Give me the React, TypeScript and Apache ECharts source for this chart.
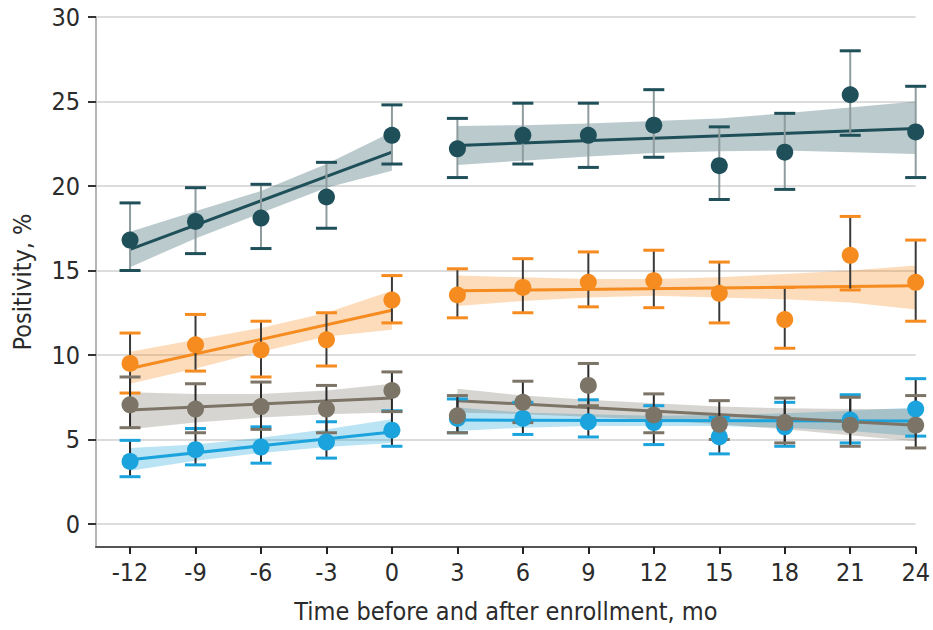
import React, { useEffect, useRef } from 'react';
import * as echarts from 'echarts';

const months = [-12, -9, -6, -3, 0, 3, 6, 9, 12, 15, 18, 21, 24];
const yTicks = [0, 5, 10, 15, 20, 25, 30];

const slateValues = [16.8, 17.9, 18.1, 19.35, 23.0, 22.2, 23.0, 23.0, 23.6, 21.2, 22.0, 25.4, 23.2];
const slateLow = [15.0, 16.0, 16.3, 17.5, 21.3, 20.5, 21.3, 21.1, 21.7, 19.2, 19.8, 23.0, 20.5];
const slateHigh = [19.0, 19.9, 20.1, 21.4, 24.8, 24.0, 24.9, 24.9, 25.7, 23.5, 24.3, 28.0, 25.9];

const orangeValues = [9.5, 10.6, 10.3, 10.9, 13.25, 13.55, 14.0, 14.3, 14.4, 13.65, 12.1, 15.9, 14.3];
const orangeLow = [7.75, 9.05, 8.7, 9.35, 11.9, 12.2, 12.5, 12.85, 12.8, 11.9, 10.4, 13.85, 12.0];
const orangeHigh = [11.3, 12.4, 12.0, 12.5, 14.7, 15.1, 15.7, 16.1, 16.2, 15.5, 14.0, 18.2, 16.8];

const grayValues = [7.05, 6.8, 6.95, 6.8, 7.9, 6.4, 7.2, 8.2, 6.45, 5.9, 6.0, 5.85, 5.85];
const grayLow = [5.7, 5.4, 5.6, 5.4, 6.65, 5.4, 6.0, 7.0, 5.4, 5.0, 4.8, 4.6, 4.5];
const grayHigh = [8.7, 8.3, 8.4, 8.2, 9.0, 7.6, 8.45, 9.5, 7.7, 7.3, 7.45, 7.5, 7.6];

const blueValues = [3.7, 4.4, 4.55, 4.85, 5.55, 6.25, 6.25, 6.05, 6.0, 5.15, 5.75, 6.15, 6.8];
const blueLow = [2.8, 3.5, 3.6, 3.9, 4.6, 5.4, 5.3, 5.15, 4.7, 4.15, 4.6, 4.8, 5.2];
const blueHigh = [4.95, 5.65, 5.75, 6.05, 6.7, 7.4, 7.2, 7.35, 7.0, 6.3, 7.2, 7.65, 8.6];

// fitted trend lines (segment ends)
const fitPreMonths = [-12, 0];
const fitPostMonths = [3, 24];
const slateFitPre = [16.25, 22.0];
const slateFitPost = [22.4, 23.4];
const orangeFitPre = [9.2, 12.65];
const orangeFitPost = [13.8, 14.1];
const grayFitPre = [6.75, 7.45];
const grayFitPost = [7.3, 5.85];
const blueFitPre = [3.8, 5.45];
const blueFitPost = [6.15, 6.1];

// confidence bands
const bandPreMonths = [-12, -9, -6, -3, 0];
const bandPostMonths = [3, 6, 9, 12, 15, 18, 21, 24];
const slateBandPreLow = [15.2, 16.9, 18.4, 19.9, 20.9];
const slateBandPreHigh = [17.3, 18.5, 19.7, 21.3, 23.2];
const slateBandPostLow = [21.25, 21.5, 21.75, 21.95, 22.05, 22.1, 22.0, 21.9];
const slateBandPostHigh = [23.55, 23.6, 23.7, 23.85, 24.0, 24.3, 24.65, 25.0];
const orangeBandPreLow = [8.3, 9.2, 10.2, 11.1, 11.5];
const orangeBandPreHigh = [10.2, 10.9, 11.6, 12.5, 13.8];
const orangeBandPostLow = [12.9, 13.2, 13.4, 13.5, 13.4, 13.3, 13.1, 12.7];
const orangeBandPostHigh = [14.7, 14.6, 14.5, 14.5, 14.6, 14.8, 15.0, 15.3];
const grayBandPreLow = [5.6, 6.0, 6.3, 6.5, 6.6];
const grayBandPreHigh = [7.8, 7.7, 7.7, 7.9, 8.3];
const grayBandPostLow = [6.6, 6.5, 6.35, 6.15, 5.9, 5.6, 5.25, 4.9];
const grayBandPostHigh = [8.0, 7.6, 7.35, 7.15, 6.95, 6.85, 6.8, 6.8];
const blueBandPreLow = [3.15, 3.75, 4.2, 4.55, 4.8];
const blueBandPreHigh = [4.5, 4.7, 5.1, 5.6, 6.2];
const blueBandPostLow = [5.5, 5.7, 5.8, 5.8, 5.8, 5.7, 5.5, 5.2];
const blueBandPostHigh = [6.9, 6.6, 6.5, 6.4, 6.45, 6.55, 6.7, 6.9];

const FONT = '"DejaVu Sans Condensed", "DejaVu Sans", sans-serif';
const FS = 25;

type Group = {
  name: string;
  color: string;
  stem: string;
  values: number[];
  low: number[];
  high: number[];
  fitPre: number[];
  fitPost: number[];
  bandPreLow: number[];
  bandPreHigh: number[];
  bandPostLow: number[];
  bandPostHigh: number[];
};

const groups: Group[] = [
  { name: 'slate', color: '#1f4f59', stem: '#8e9c9e', values: slateValues, low: slateLow, high: slateHigh, fitPre: slateFitPre, fitPost: slateFitPost, bandPreLow: slateBandPreLow, bandPreHigh: slateBandPreHigh, bandPostLow: slateBandPostLow, bandPostHigh: slateBandPostHigh },
  { name: 'orange', color: '#f68b1f', stem: '#3a3a3a', values: orangeValues, low: orangeLow, high: orangeHigh, fitPre: orangeFitPre, fitPost: orangeFitPost, bandPreLow: orangeBandPreLow, bandPreHigh: orangeBandPreHigh, bandPostLow: orangeBandPostLow, bandPostHigh: orangeBandPostHigh },
  { name: 'blue', color: '#1aa3dc', stem: '#2a2a2a', values: blueValues, low: blueLow, high: blueHigh, fitPre: blueFitPre, fitPost: blueFitPost, bandPreLow: blueBandPreLow, bandPreHigh: blueBandPreHigh, bandPostLow: blueBandPostLow, bandPostHigh: blueBandPostHigh },
  { name: 'gray', color: '#7b7467', stem: '#2a2a2a', values: grayValues, low: grayLow, high: grayHigh, fitPre: grayFitPre, fitPost: grayFitPost, bandPreLow: grayBandPreLow, bandPreHigh: grayBandPreHigh, bandPostLow: grayBandPostLow, bandPostHigh: grayBandPostHigh },
];

function bandSeries(name: string, xs: number[], lo: number[], hi: number[], color: string) {
  const data = xs.map((x, i) => [x, lo[i], hi[i]]);
  return {
    type: 'custom',
    name,
    z: 1,
    silent: true,
    data,
    encode: { x: 0, y: [1, 2] },
    renderItem: (params: any, api: any) => {
      if (params.dataIndex !== 0) return null;
      const top = data.map((d) => api.coord([d[0], d[2]]));
      const bottom = data.map((d) => api.coord([d[0], d[1]])).reverse();
      return {
        type: 'polygon',
        shape: { points: top.concat(bottom) },
        style: { fill: color, opacity: 0.3 },
      };
    },
  };
}

export default function App() {
  const ref = useRef<HTMLDivElement>(null);
  useEffect(() => {
    if (!ref.current) return;
    const chart = echarts.init(ref.current, null, { renderer: 'svg' });
    const series: any[] = [];
    groups.forEach((g) => {
      series.push(bandSeries(g.name + '-band-pre', bandPreMonths, g.bandPreLow, g.bandPreHigh, g.color));
      series.push(bandSeries(g.name + '-band-post', bandPostMonths, g.bandPostLow, g.bandPostHigh, g.color));
    });
    groups.forEach((g) => {
      series.push({
        type: 'line', name: g.name + '-fit-pre', z: 2, symbol: 'none', silent: true,
        data: fitPreMonths.map((m, i) => [m, g.fitPre[i]]),
        lineStyle: { color: g.color, width: 3 },
      });
      series.push({
        type: 'line', name: g.name + '-fit-post', z: 2, symbol: 'none', silent: true,
        data: fitPostMonths.map((m, i) => [m, g.fitPost[i]]),
        lineStyle: { color: g.color, width: 3 },
      });
    });
    groups.forEach((g) => {
      series.push({
        type: 'custom', name: g.name + '-err', z: 3, silent: true,
        data: months.map((m, i) => [m, g.low[i], g.high[i]]),
        encode: { x: 0, y: [1, 2] },
        renderItem: (params: any, api: any) => {
          const x = api.value(0);
          const pLo = api.coord([x, api.value(1)]);
          const pHi = api.coord([x, api.value(2)]);
          const hw = 10.5;
          return {
            type: 'group',
            children: [
              { type: 'line', shape: { x1: pLo[0], y1: pLo[1], x2: pHi[0], y2: pHi[1] }, style: { stroke: g.stem, lineWidth: 2 } },
              { type: 'line', shape: { x1: pHi[0] - hw, y1: pHi[1], x2: pHi[0] + hw, y2: pHi[1] }, style: { stroke: g.color, lineWidth: 3 } },
              { type: 'line', shape: { x1: pLo[0] - hw, y1: pLo[1], x2: pLo[0] + hw, y2: pLo[1] }, style: { stroke: g.color, lineWidth: 3 } },
            ],
          };
        },
      });
    });
    groups.forEach((g) => {
      series.push({
        type: 'scatter', name: g.name + '-pts', z: 4, silent: true,
        symbol: 'circle', symbolSize: 17,
        data: months.map((m, i) => [m, g.values[i]]),
        itemStyle: { color: g.color, opacity: 1 },
      });
    });

    chart.setOption({
      animation: false,
      backgroundColor: '#ffffff',
      grid: { left: 96, right: 17, top: 17, bottom: 83, containLabel: false },
      xAxis: {
        type: 'value',
        min: -13.56,
        max: 24,
        name: 'Time before and after enrollment, mo',
        nameLocation: 'middle',
        nameGap: 52,
        nameTextStyle: { fontFamily: FONT, fontSize: FS, color: '#2b2b2b' },
        axisLine: { show: true, onZero: false, lineStyle: { color: '#555', width: 2 } },
        axisTick: { show: true, length: 7, lineStyle: { color: '#222', width: 2 }, customValues: months },
        axisLabel: { customValues: months, margin: 13, fontFamily: FONT, fontSize: FS, color: '#2b2b2b' },
        splitLine: { show: false },
      },
      yAxis: {
        type: 'value',
        min: -1.36,
        max: 30,
        name: 'Positivity, %',
        nameLocation: 'middle',
        nameGap: 61,
        nameTextStyle: { fontFamily: FONT, fontSize: FS, color: '#2b2b2b' },
        axisLine: { show: true, onZero: false, lineStyle: { color: '#b5b5b5', width: 2 } },
        axisTick: { show: true, length: 8, lineStyle: { color: '#333', width: 2 }, customValues: yTicks },
        axisLabel: { customValues: yTicks, margin: 16, fontFamily: FONT, fontSize: FS, color: '#2b2b2b' },
        splitLine: { show: true, lineStyle: { color: '#dcdcdc', width: 2 } },
      },
      series,
    });
    return () => chart.dispose();
  }, []);
  return <div ref={ref} style={{ position: 'fixed', left: 0, top: 0, width: 933, height: 630 }} />;
}
